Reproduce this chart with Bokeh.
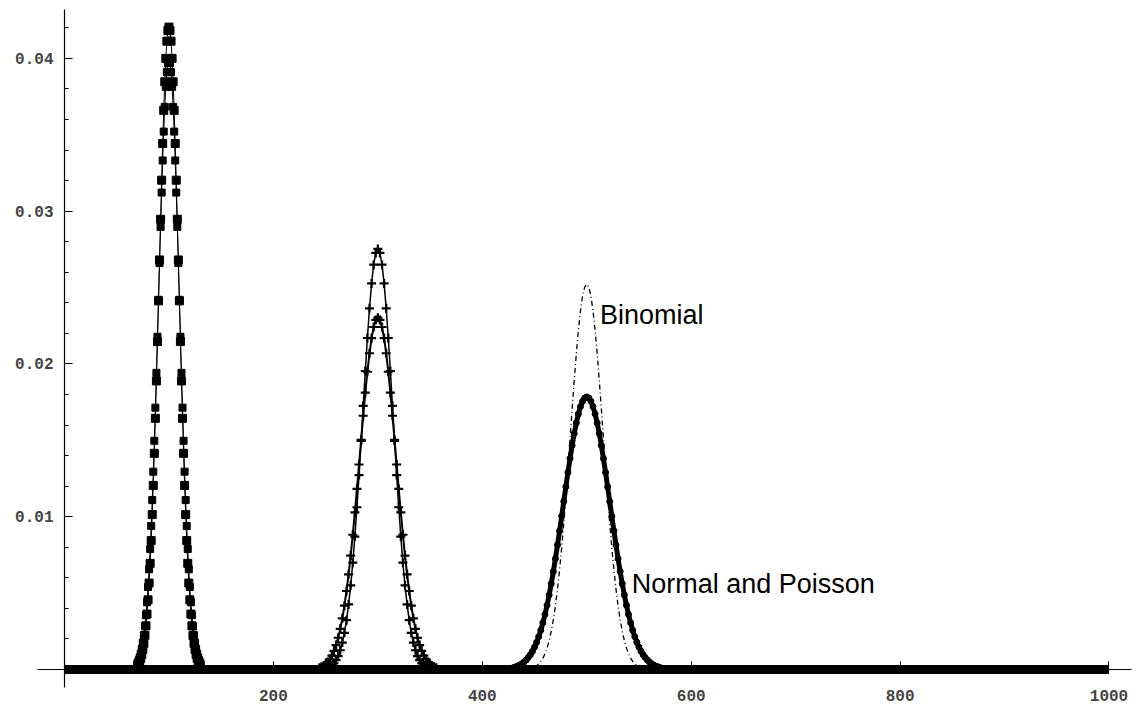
from bokeh.plotting import figure
from bokeh.models import FixedTicker, PrintfTickFormatter, Range1d
from bokeh.core.properties import value
from bokeh.embed import file_html
from bokeh.resources import INLINE

# ---- data ----
k100 = list(range(70, 131))
binom100 = [0.00028, 0.00039, 0.00054, 0.00073, 0.00098, 0.00131, 0.00171, 0.00223, 0.00286, 0.00363,
            0.00456, 0.00566, 0.00695, 0.00844, 0.01014, 0.01205, 0.01415, 0.01644, 0.01889, 0.02147,
            0.02413, 0.02681, 0.02947, 0.03203, 0.03443, 0.03660, 0.03847, 0.04000, 0.04113, 0.04182,
            0.04205,
            0.04182, 0.04113, 0.04000, 0.03847, 0.03660, 0.03443, 0.03203, 0.02947, 0.02681, 0.02413,
            0.02147, 0.01889, 0.01644, 0.01415, 0.01205, 0.01014, 0.00844, 0.00695, 0.00566, 0.00456,
            0.00363, 0.00286, 0.00223, 0.00171, 0.00131, 0.00098, 0.00073, 0.00054, 0.00039, 0.00028]
poisson100 = [0.00044, 0.00060, 0.00079, 0.00104, 0.00136, 0.00175, 0.00224, 0.00283, 0.00355, 0.00440,
              0.00540, 0.00656, 0.00789, 0.00940, 0.01109, 0.01295, 0.01497, 0.01714, 0.01942, 0.02178,
              0.02420, 0.02661, 0.02897, 0.03122, 0.03332, 0.03521, 0.03683, 0.03814, 0.03910, 0.03969,
              0.03989,
              0.03969, 0.03910, 0.03814, 0.03683, 0.03521, 0.03332, 0.03122, 0.02897, 0.02661, 0.02420,
              0.02178, 0.01942, 0.01714, 0.01497, 0.01295, 0.01109, 0.00940, 0.00789, 0.00656, 0.00540,
              0.00440, 0.00355, 0.00283, 0.00224, 0.00175, 0.00136, 0.00104, 0.00079, 0.00060, 0.00044]

k300b = list(range(250, 351, 2))
binom300 = [0.00007, 0.00011, 0.00018, 0.00027, 0.00041, 0.00061, 0.00088, 0.00126, 0.00176, 0.00240,
            0.00323, 0.00426, 0.00551, 0.00699, 0.00870, 0.01062, 0.01273, 0.01497, 0.01726, 0.01954,
            0.02170, 0.02364, 0.02527, 0.02650, 0.02727,
            0.02753,
            0.02727, 0.02650, 0.02527, 0.02364, 0.02170, 0.01954, 0.01726, 0.01497, 0.01273, 0.01062,
            0.00870, 0.00699, 0.00551, 0.00426, 0.00323, 0.00240, 0.00176, 0.00126, 0.00088, 0.00061,
            0.00041, 0.00027, 0.00018, 0.00011, 0.00007]
k300p = list(range(244, 357, 2))
poisson300 = [0.00012, 0.00018, 0.00025, 0.00036, 0.00049, 0.00068, 0.00091, 0.00122, 0.00160, 0.00208,
              0.00266, 0.00335, 0.00418, 0.00514, 0.00623, 0.00746, 0.00882, 0.01028, 0.01182, 0.01342,
              0.01503, 0.01661, 0.01812, 0.01949, 0.02070, 0.02169, 0.02242, 0.02288,
              0.02303,
              0.02288, 0.02242, 0.02169, 0.02070, 0.01949, 0.01812, 0.01661, 0.01503, 0.01342, 0.01182,
              0.01028, 0.00882, 0.00746, 0.00623, 0.00514, 0.00418, 0.00335, 0.00266, 0.00208, 0.00160,
              0.00122, 0.00091, 0.00068, 0.00049, 0.00036, 0.00025, 0.00018, 0.00012]

k500b = list(range(450, 551, 2))
binom500 = [0.00017, 0.00025, 0.00037, 0.00053, 0.00074, 0.00103, 0.00140, 0.00189, 0.00250, 0.00325,
            0.00417, 0.00526, 0.00653, 0.00797, 0.00958, 0.01134, 0.01320, 0.01512, 0.01705, 0.01892,
            0.02066, 0.02220, 0.02348, 0.02444, 0.02503,
            0.02523,
            0.02503, 0.02444, 0.02348, 0.02220, 0.02066, 0.01892, 0.01705, 0.01512, 0.01320, 0.01134,
            0.00958, 0.00797, 0.00653, 0.00526, 0.00417, 0.00325, 0.00250, 0.00189, 0.00140, 0.00103,
            0.00074, 0.00053, 0.00037, 0.00025, 0.00017]
k500p = list(range(430, 571, 2))
poisson500 = [0.00013, 0.00018, 0.00023, 0.00030, 0.00038, 0.00049, 0.00062, 0.00078, 0.00097, 0.00119,
              0.00146, 0.00178, 0.00215, 0.00257, 0.00306, 0.00360, 0.00421, 0.00488, 0.00562, 0.00641,
              0.00725, 0.00815, 0.00907, 0.01003, 0.01100, 0.01196, 0.01290, 0.01381, 0.01466, 0.01545,
              0.01614, 0.01673, 0.01721, 0.01756, 0.01777,
              0.01784,
              0.01777, 0.01756, 0.01721, 0.01673, 0.01614, 0.01545, 0.01466, 0.01381, 0.01290, 0.01196,
              0.01100, 0.01003, 0.00907, 0.00815, 0.00725, 0.00641, 0.00562, 0.00488, 0.00421, 0.00360,
              0.00306, 0.00257, 0.00215, 0.00178, 0.00146, 0.00119, 0.00097, 0.00078, 0.00062, 0.00049,
              0.00038, 0.00030, 0.00023, 0.00018, 0.00013]

tail_x = [0, 1000]
tail_y = [0.0, 0.0]

x_major = [200, 400, 600, 800, 1000]
y_major = [0.01, 0.02, 0.03, 0.04]
y_minor = [0.002, 0.004, 0.006, 0.008, 0.010, 0.012, 0.014, 0.016, 0.018, 0.020, 0.022,
           0.024, 0.026, 0.028, 0.030, 0.032, 0.034, 0.036, 0.038, 0.040, 0.042]
x_minor = [50, 100, 150, 200, 250, 300, 350, 400, 450, 500, 550, 600, 650, 700, 750, 800,
           850, 900, 950, 1000]

label_text = ["Binomial", "Normal and Poisson"]
label_x = [512.7, 543.1]
label_y = [0.02321, 0.00557]

# ---- figure ----
p = figure(width=1136, height=705, output_backend="svg", toolbar_location=None,
           x_range=Range1d(-61.27, 1026.33), y_range=Range1d(-0.002356, 0.043791),
           min_border=0)
p.grid.grid_line_color = None
p.outline_line_color = None
p.background_fill_color = "white"
p.border_fill_color = "white"

# zero tails (dense markers along the baseline)
p.line(tail_x, tail_y, line_color="black", line_width=9)

# peak at 100
p.line(k100, poisson100, line_color="black", line_width=1)
p.scatter(k100, poisson100, marker="square", size=7, color="black")
p.line(k100, binom100, line_color="black", line_width=1)
p.scatter(k100, binom100, marker="square", size=8, color="black")

# peak at 300
p.line(k300p, poisson300, line_color="black", line_width=2)
p.scatter(k300p, poisson300, marker="cross", size=9, line_color="black", line_width=2.2)
p.line(k300b, binom300, line_color="black", line_width=1.5)
p.scatter(k300b, binom300, marker="cross", size=9, line_color="black", line_width=2.2)

# peak at 500
p.line(k500b, binom500, line_color="black", line_width=1.3, line_dash="5 3 1 3")
p.line(k500p, poisson500, line_color="black", line_width=5)
p.scatter(k500p, poisson500, marker="circle", size=6, color="black")

p.text(label_x, label_y, text=label_text, text_font=value("Liberation Sans"),
       text_font_size="27px", text_color="black", text_baseline="alphabetic", text_align="left")

# axes (Mathematica style, crossing at the origin)
xa = p.xaxis[0]
xa.fixed_location = 0
xa.bounds = (-25.85, 1021.6)
xa.ticker = FixedTicker(ticks=x_major, minor_ticks=x_minor)
xa.major_tick_in = 8
xa.major_tick_out = 0
xa.minor_tick_in = 4
xa.minor_tick_out = 0
xa.axis_line_width = 1.2
xa.major_label_text_font = "Liberation Mono"
xa.major_label_text_font_style = "bold"
xa.major_label_text_font_size = "16px"
xa.major_label_standoff = 20

ya = p.yaxis[0]
ya.fixed_location = 0
ya.bounds = (-0.001178, 0.043202)
ya.ticker = FixedTicker(ticks=y_major, minor_ticks=y_minor)
ya.formatter = PrintfTickFormatter(format="%.2f")
ya.major_tick_in = 8
ya.major_tick_out = 0
ya.minor_tick_in = 4
ya.minor_tick_out = 0
ya.axis_line_width = 1.2
ya.major_label_text_font = "Liberation Mono"
ya.major_label_text_font_style = "bold"
ya.major_label_text_font_size = "16px"
ya.major_label_standoff = 11

open("out.html", "w").write(file_html(p, INLINE))
